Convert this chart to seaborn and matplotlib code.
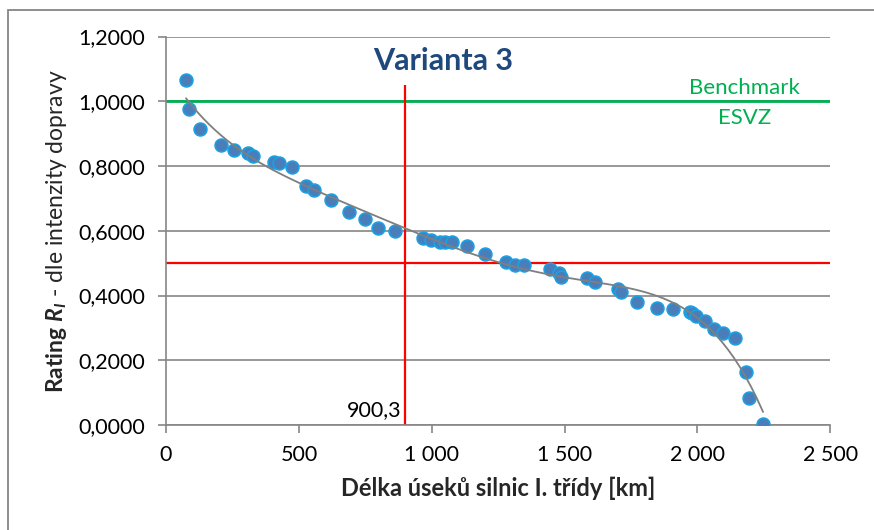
import matplotlib
matplotlib.use("Agg")
import matplotlib.pyplot as plt
import matplotlib.ticker as mticker
from matplotlib.patches import Rectangle
import seaborn as sns
import pandas as pd

OUTPUT_FILE = "out.png"

sns.set_theme(style="white")
plt.rcParams["font.family"] = ["Lato", "DejaVu Sans"]
plt.rcParams["mathtext.fontset"] = "custom"
plt.rcParams["mathtext.rm"] = "Lato"
plt.rcParams["mathtext.bf"] = "Lato:bold"
plt.rcParams["mathtext.it"] = "Lato:italic"
plt.rcParams["mathtext.bfit"] = "Lato:bold:italic"

# Délka úseků (km) a rating dle intenzity dopravy
delka_km = [75, 85, 128, 208, 255, 310, 329, 408, 425, 474,
            527, 558, 621, 689, 747, 799, 862, 966, 997, 1032,
            1050, 1077, 1133, 1202, 1280, 1314, 1348, 1446, 1479, 1488,
            1584, 1615, 1700, 1712, 1773, 1848, 1907, 1971, 1979, 1996,
            2030, 2062, 2098, 2141, 2184, 2195, 2247]
rating = [1.065, 0.977, 0.916, 0.865, 0.851, 0.841, 0.831, 0.814, 0.808, 0.796,
          0.738, 0.725, 0.694, 0.659, 0.637, 0.609, 0.600, 0.577, 0.572, 0.566,
          0.566, 0.566, 0.554, 0.529, 0.503, 0.494, 0.493, 0.482, 0.471, 0.456,
          0.454, 0.442, 0.420, 0.410, 0.380, 0.361, 0.358, 0.350, 0.347, 0.338,
          0.320, 0.296, 0.285, 0.269, 0.164, 0.084, 0.004]

# referenční hodnoty
CUTOFF_X = 900.3
CUTOFF_TOP = 1.05
BENCHMARK_Y = 1.0
RATING_LIMIT = 0.5

df = pd.DataFrame({"delka": delka_km, "rating": rating})

GRAY = "#868686"
fig = plt.figure(figsize=(8.74, 5.30), dpi=100)
ax = fig.add_axes([0.190, 0.198, 0.760, 0.733])

# referenční čáry
ax.axhline(BENCHMARK_Y, color="#00B050", lw=2.0, zorder=2)
ax.axhline(RATING_LIMIT, color="#FF0000", lw=1.6, zorder=2)
ax.vlines(CUTOFF_X, 0, CUTOFF_TOP, color="#FF0000", lw=1.6, zorder=2)

# body
sns.scatterplot(data=df, x="delka", y="rating", ax=ax, s=85,
                color="#4A7EBB", edgecolor="#1BA1E2", linewidth=1.2, zorder=3)

# polynomický trend
sns.regplot(data=df, x="delka", y="rating", ax=ax, scatter=False, order=5,
            ci=None, line_kws={"color": "#7F7F7F", "lw": 1.3, "zorder": 4})

ax.set_xlim(0, 2500)
ax.set_ylim(0, 1.2)
ax.xaxis.set_major_locator(mticker.MultipleLocator(500))
ax.yaxis.set_major_locator(mticker.MultipleLocator(0.2))
ax.xaxis.set_major_formatter(mticker.FuncFormatter(
    lambda v, p: f"{v:,.0f}".replace(",", " ")))
ax.yaxis.set_major_formatter(mticker.FuncFormatter(
    lambda v, p: f"{v:.4f}".replace(".", ",")))

ax.yaxis.grid(True, color=GRAY, lw=1.2, zorder=0)
ax.xaxis.grid(False)
ax.set_axisbelow(True)
for side in ["top", "right"]:
    ax.spines[side].set_visible(False)
for side in ["left", "bottom"]:
    ax.spines[side].set_color(GRAY)
    ax.spines[side].set_linewidth(1.2)
ax.tick_params(axis="both", which="major", direction="out", length=6,
               width=1.2, color=GRAY, labelsize=15.5, labelcolor="black",
               left=True, bottom=True)
ax.tick_params(axis="y", pad=9)
ax.tick_params(axis="x", pad=8)

ax.set_xlabel("Délka úseků silnic I. třídy [km]", fontsize=17,
              fontweight="bold", labelpad=9)
ax.set_ylabel(r"$\mathbf{Rating}\ \mathbfit{R}_{\mathbfit{I}}$ - dle intenzity dopravy",
              fontsize=16.5, labelpad=7)

ax.text(0.417, 0.937, "Varianta 3", transform=ax.transAxes, ha="center",
        va="center", fontsize=22, fontweight="bold", color="#1F497D")
ax.text(2176, 1.042, "Benchmark", ha="center", va="center",
        fontsize=16, color="#00B050")
ax.text(2176, 0.950, "ESVZ", ha="center", va="center",
        fontsize=16, color="#00B050")
ax.text(CUTOFF_X - 15, 0.045, f"{CUTOFF_X}".replace(".", ","), ha="right",
        va="center", fontsize=15.5, color="black")

# rámeček grafu
fig.patches.append(Rectangle((8 / 874, -0.1), 1.2, 1.1 - 10 / 530,
                             transform=fig.transFigure, fill=False,
                             edgecolor=GRAY, lw=1.3))

plt.savefig(OUTPUT_FILE, dpi=100)
plt.close()
